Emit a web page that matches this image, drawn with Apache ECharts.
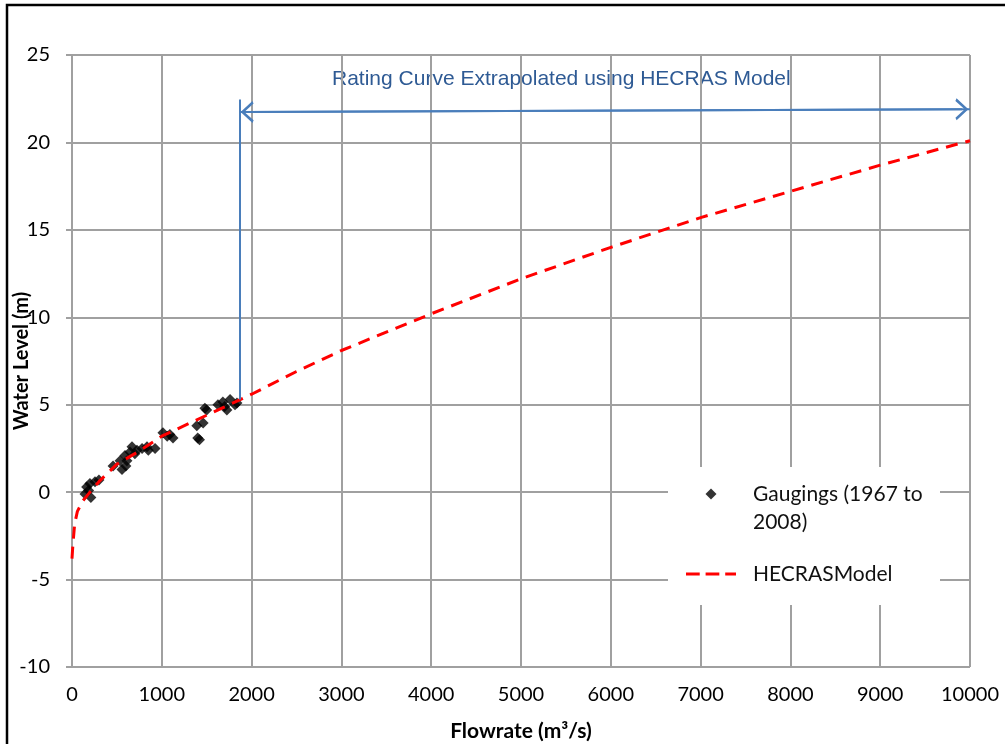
<!DOCTYPE html>
<html>
<head>
<meta charset="utf-8">
<script src="https://cdn.jsdelivr.net/npm/echarts@6/dist/echarts.min.js"></script>
<style>
  html, body { margin: 0; padding: 0; background: #fff; }
  #chart { width: 1005px; height: 744px; }
</style>
</head>
<body>
<div id="chart"></div>
<script>
let chart = echarts.init(document.getElementById('chart'));

/* gaugings 1967-2008 : flow (m3/s), level (m) */
let gaugeFlow  = [145, 163, 185, 200, 210, 256, 300, 457, 535, 557, 590, 600, 612, 646, 668, 700, 724, 780, 835, 850, 925, 1013, 1060, 1090, 1125, 1390, 1400, 1420, 1460, 1480, 1500, 1625, 1680, 1700, 1725, 1760, 1815, 1837];
let gaugeLevel = [-0.1, 0.3, 0.1, 0.5, -0.3, 0.6, 0.7, 1.5, 1.8, 1.3, 2.1, 1.5, 1.8, 2.3, 2.6, 2.2, 2.4, 2.5, 2.6, 2.4, 2.5, 3.4, 3.2, 3.3, 3.1, 3.8, 3.1, 3.0, 3.95, 4.8, 4.7, 5.0, 5.15, 4.9, 4.7, 5.3, 5.0, 5.1];

/* HECRAS model rating curve */
let modelFlow  = [0, 10, 30, 60, 120, 200, 300, 500, 750, 1000, 1500, 2000, 2500, 3000, 4000, 5000, 6000, 7000, 8000, 9000, 10000];
let modelLevel = [-3.8, -3.0, -1.8, -1.1, -0.5, 0.0, 0.6, 1.6, 2.35, 3.2, 4.4, 5.6, 6.9, 8.1, 10.2, 12.2, 14.0, 15.7, 17.2, 18.7, 20.1];

/* extrapolation marker */
let extrapStart = 1870;
let extrapEnd = 10000;

let gaugeName = 'Gaugings (1967 to 2008)';
let modelName = 'HECRASModel';

let labelFont = 'Lato';
let blue = '#4a7ebb';
let grey = '#a0a0a0';
let chevron = 'path://M5,0 L10,8.2 L8.8,9 L5,2.6 L1.2,9 L0,8.2 Z';
let dashIcon = 'path://M0,0 h14 v3 h-14 Z M20,0 h14 v3 h-14 Z M40,0 h11 v3 h-11 Z';
let diamondIcon = 'path://M5,0 L10,5 L5,10 L0,5 Z';

let gaugings = gaugeFlow.map(function (q, i) { return [q, gaugeLevel[i]]; });
let model = modelFlow.map(function (q, i) { return [q, modelLevel[i]]; });

let option = {
    backgroundColor: '#fff',
    animation: false,
    grid: { left: 72, right: 35, top: 55, bottom: 77, containLabel: false, outerBoundsMode: 'none' },
    graphic: [{
        type: 'rect',
        shape: { x: 7, y: 5, width: 1100, height: 800 },
        style: { fill: 'none', stroke: '#000', lineWidth: 2.5 },
        silent: true
    }, {
        // white box behind the legend
        type: 'rect',
        z: 1,
        shape: { x: 668, y: 467, width: 272, height: 138 },
        style: { fill: '#fff' },
        silent: true
    }, {
        type: 'text',
        left: 332, top: 69,
        style: { text: 'Rating Curve Extrapolated using HECRAS Model', fill: '#2e5a94', font: '21px "Liberation Sans", sans-serif' },
        silent: true
    }],
    legend: {
        orient: 'vertical',
        left: 686, top: 452,
        padding: 0,
        itemWidth: 50, itemHeight: 11,
        itemGap: 24,
        textStyle: { fontFamily: labelFont, fontSize: 21, color: '#111', lineHeight: 28, padding: [0, 0, 0, 12] },
        formatter: function (name) {
            return name === gaugeName ? '\nGaugings (1967 to\n2008)' : name;
        },
        data: [
            { name: gaugeName, icon: diamondIcon },
            { name: modelName, icon: dashIcon, itemStyle: { color: '#ff0000' } }
        ]
    },
    xAxis: {
        type: 'value', min: 0, max: 10000, interval: 1000,
        name: 'Flowrate (m³/s)', nameLocation: 'middle', nameGap: 54, nameMoveOverlap: false,
        nameTextStyle: { fontFamily: labelFont, fontSize: 21, fontWeight: 'bold', color: '#000' },
        axisLine: { lineStyle: { color: grey, width: 2 } },
        axisTick: { show: true, length: 6, lineStyle: { color: grey, width: 2 } },
        axisLabel: { fontFamily: labelFont, fontSize: 20, color: '#000', margin: 18, formatter: function (v) { return String(v); } },
        splitLine: { lineStyle: { color: grey, width: 2 } }
    },
    yAxis: {
        type: 'value', min: -10, max: 25, interval: 5,
        name: 'Water Level (m)', nameLocation: 'middle', nameGap: 40, nameMoveOverlap: false,
        nameTextStyle: { fontFamily: labelFont, fontSize: 20, fontWeight: 'bold', color: '#000' },
        axisLine: { show: true, lineStyle: { color: grey, width: 2 } },
        axisTick: { show: true, length: 6, lineStyle: { color: grey, width: 2 } },
        axisLabel: { fontFamily: labelFont, fontSize: 20, color: '#000', margin: 22 },
        splitLine: { lineStyle: { color: grey, width: 2 } }
    },
    series: [{
        name: gaugeName,
        type: 'scatter',
        data: gaugings,
        symbol: 'diamond',
        symbolSize: 11,
        itemStyle: { color: '#000' },
        z: 2
    }, {
        name: modelName,
        type: 'line',
        data: model,
        symbol: 'none',
        showSymbol: false,
        lineStyle: { color: '#ff0000', width: 3, type: [12, 8] },
        itemStyle: { color: '#ff0000' },
        z: 3,
        markLine: {
            silent: true,
            animation: false,
            label: { show: false },
            lineStyle: { color: blue, width: 2, type: 'solid' },
            data: [
                [{ coord: [extrapStart, 5.3], symbol: 'none' }, { coord: [extrapStart, 22.45], symbol: 'none' }],
                [{ coord: [extrapStart, 21.74], symbol: 'none' }, { coord: [extrapEnd, 21.9], symbol: 'none' }],
                [{ coord: [1950, 21.745], symbol: chevron, symbolSize: [22, 13] }, { coord: [9910, 21.895], symbol: chevron, symbolSize: [22, 13] }]
            ]
        }
    }]
};

chart.setOption(option);
</script>
</body>
</html>
